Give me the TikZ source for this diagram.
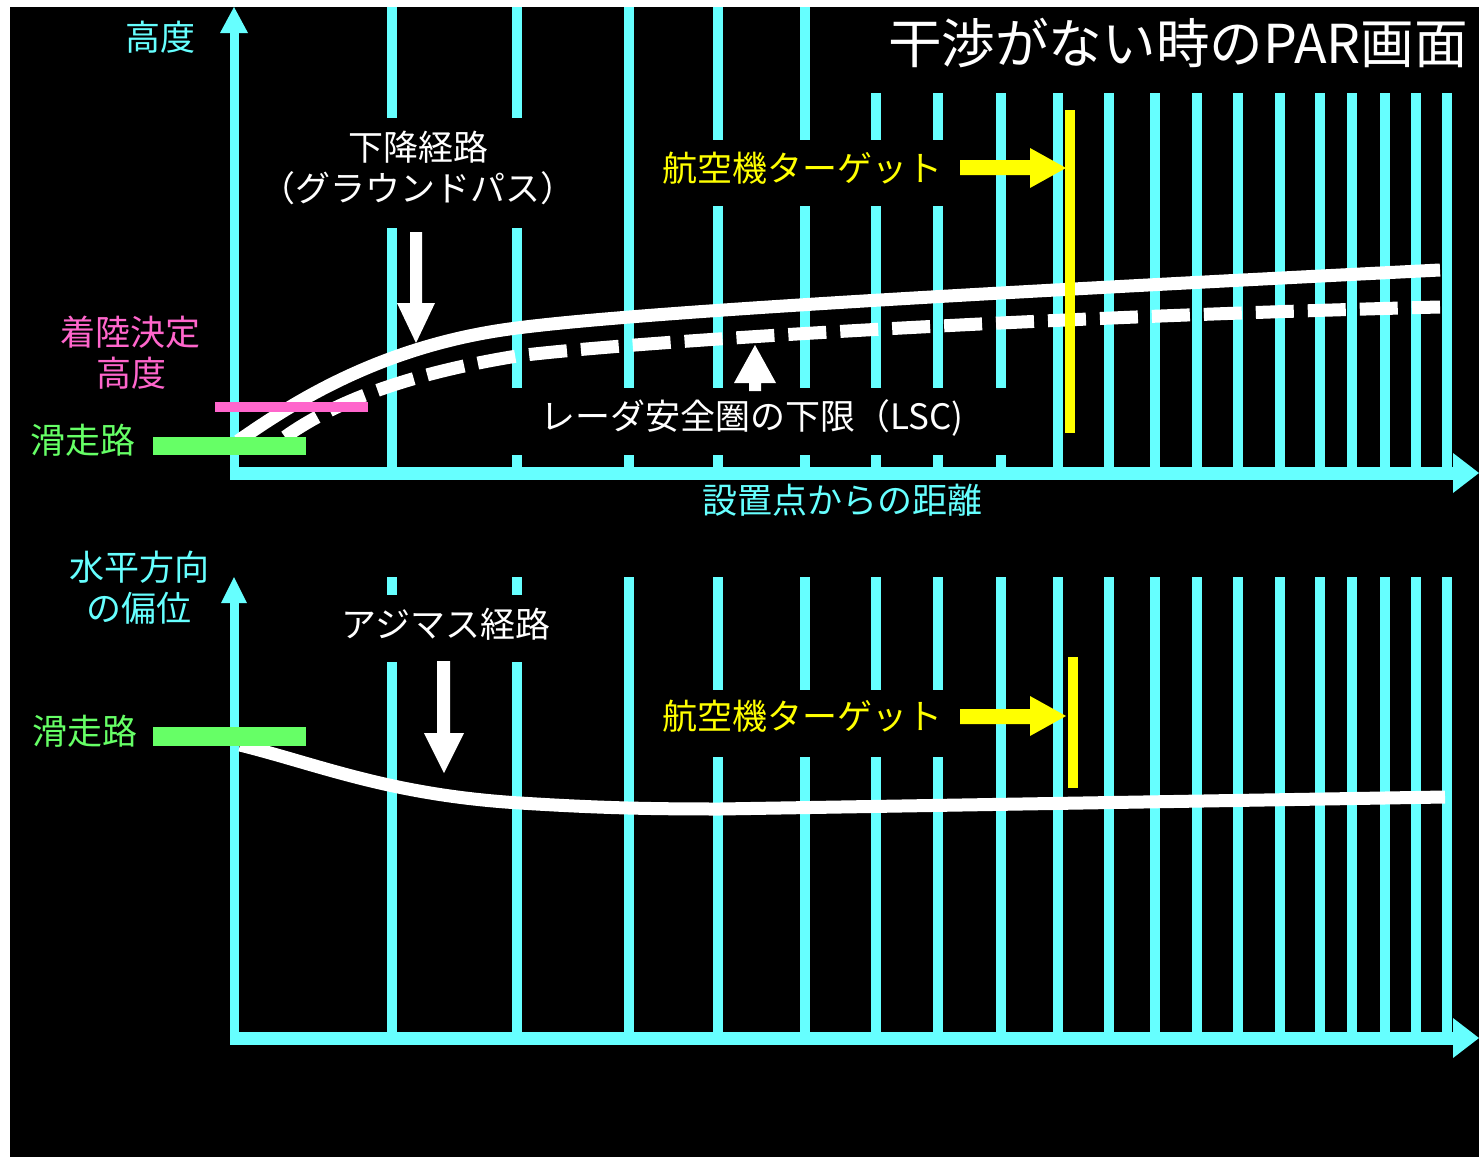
\documentclass[tikz,border=0pt]{standalone}
\usepackage{fontspec}
\newfontfamily\jp{Noto Sans CJK JP}
\definecolor{cy}{HTML}{66FFFF}
\definecolor{gr}{HTML}{66FF66}
\definecolor{pk}{HTML}{FF66CC}
\definecolor{yl}{HTML}{FFFF00}
\begin{document}
\begin{tikzpicture}[x=0.5pt,y=-0.5pt,
  gridline/.style={cy, line width=5pt},
  yaxis/.style={cy, line width=4.5pt},
  xaxis/.style={cy, line width=6.5pt},
  pathline/.style={white, line width=6.5pt},
  dashpath/.style={white, line width=6.5pt, dash pattern=on 19pt off 7pt},
  lbl/.style={inner sep=0pt, font=\jp\fontsize{17.5pt}{20.5pt}\selectfont, align=center},
  titlelbl/.style={inner sep=0pt, font=\jp\fontsize{26.8pt}{30pt}\selectfont, white}]
% background
\useasboundingbox (0,0) rectangle (1479,1157);
\fill[white] (0,0) rectangle (1479,1157);
\fill[black] (10,7) rectangle (1479,1157);

% ---------- top plot grid ----------
\foreach \x/\a/\b in {392/7/118, 392/228/467,
  517/7/118, 517/228/388, 517/455/467,
  629/7/388, 629/455/467,
  718/7/140, 718/206/388, 718/455/467,
  805/7/140, 805/206/388, 805/455/467,
  876/93/140, 876/206/388, 876/455/467,
  938/93/140, 938/206/388, 938/455/467,
  1001/93/388, 1001/455/467,
  1058/93/467, 1109/93/467, 1155/93/467, 1197/93/467, 1238/93/467,
  1280/93/467, 1320/93/467, 1352/93/467, 1385/93/467, 1416/93/467, 1447/93/467}
  \draw[gridline] (\x,\a) -- (\x,\b);

% ---------- bottom plot grid ----------
\foreach \x/\a/\b in {392/577/595, 392/662/1032,
  517/577/595, 517/662/1032,
  629/577/1032,
  718/577/690, 718/757/1032,
  805/577/690, 805/757/1032,
  876/577/690, 876/757/1032,
  938/577/690, 938/757/1032,
  1001/577/1032, 1058/577/1032, 1109/577/1032, 1155/577/1032, 1197/577/1032,
  1238/577/1032, 1280/577/1032, 1320/577/1032, 1352/577/1032, 1385/577/1032,
  1416/577/1032, 1447/577/1032}
  \draw[gridline] (\x,\a) -- (\x,\b);

% ---------- axes ----------
\coordinate (o1) at (234,473);
\coordinate (o2) at (234,1038);
\draw[yaxis] (234,479) -- (234,30);
\fill[cy] (220,33) -- (248,33) -- (234,7) -- cycle;
\draw[xaxis] (230,473) -- (1455,473);
\fill[cy] (1453,453) -- (1453,493) -- (1479,473) -- cycle;

\draw[yaxis] (234,1044) -- (234,600);
\fill[cy] (221,603) -- (247,603) -- (234,577) -- cycle;
\draw[xaxis] (230,1038) -- (1455,1038);
\fill[cy] (1453,1018) -- (1453,1058) -- (1479,1038) -- cycle;

% ---------- top curves ----------
\draw[pathline] (238,441) .. controls (290,405) and (380,345) .. (517,328)
  .. controls (640,312) and (1000,292) .. (1440,270);
\draw[dashpath] (285,437) .. controls (330,405) and (400,375) .. (517,356)
  .. controls (620,343) and (1000,318) .. (1440,307);

% ---------- bottom curve ----------
\draw[pathline] (240,745) .. controls (320,765) and (390,795) .. (520,803)
  .. controls (600,808) and (650,809) .. (720,809) -- (1445,797);

% ---------- runway / DH bars ----------
\fill[pk] (215,402) rectangle (368,412);
\fill[gr] (153,437) rectangle (306,455);
\fill[gr] (153,727) rectangle (306,746);

% ---------- target bars and arrows ----------
\fill[yl] (1065,110) rectangle (1075,433);
\fill[yl] (1068,657) rectangle (1078,788);
\fill[yl] (960,160) -- (1030,160) -- (1030,148) -- (1066,168) -- (1030,188) -- (1030,175) -- (960,175) -- cycle;
\fill[yl] (960,709) -- (1030,709) -- (1030,696) -- (1066,716) -- (1030,736) -- (1030,724) -- (960,724) -- cycle;

% ---------- white arrows ----------
\fill[white] (410,232) -- (422,232) -- (422,303) -- (435,303) -- (416,343) -- (397,303) -- (410,303) -- cycle;
\fill[white] (755,345) -- (776,383) -- (761,383) -- (761,391) -- (749,391) -- (749,383) -- (734,383) -- cycle;
\fill[white] (437,661) -- (450,661) -- (450,733) -- (464,733) -- (444,773) -- (424,733) -- (437,733) -- cycle;

% ---------- labels ----------
\node[titlelbl] (title) at (1178,43) {干渉がない時のPAR画面};
\node[lbl, text=cy] (alt) at (160,37) {高度};
\node[lbl, text=pk] (dh) at (131,353) {着陸決定\\高度};
\node[lbl, text=gr] (rw1) at (83,440) {滑走路};
\node[lbl, text=white] (gp) at (418,168) {下降経路\\（グラウンドパス）};
\node[lbl, text=yl] (tg1) at (802,168) {航空機ターゲット};
\node[lbl, text=white] (lsc) at (752,418) {レーダ安全圏の下限（LSC)};
\node[lbl, text=cy] (dist) at (842,500) {設置点からの距離};
\node[lbl, text=cy] (dev) at (139,588) {水平方向\\の偏位};
\node[lbl, text=gr] (rw2) at (85,731) {滑走路};
\node[lbl, text=white] (az) at (446,624) {アジマス経路};
\node[lbl, text=yl] (tg2) at (802,716) {航空機ターゲット};
\end{tikzpicture}
\end{document}
